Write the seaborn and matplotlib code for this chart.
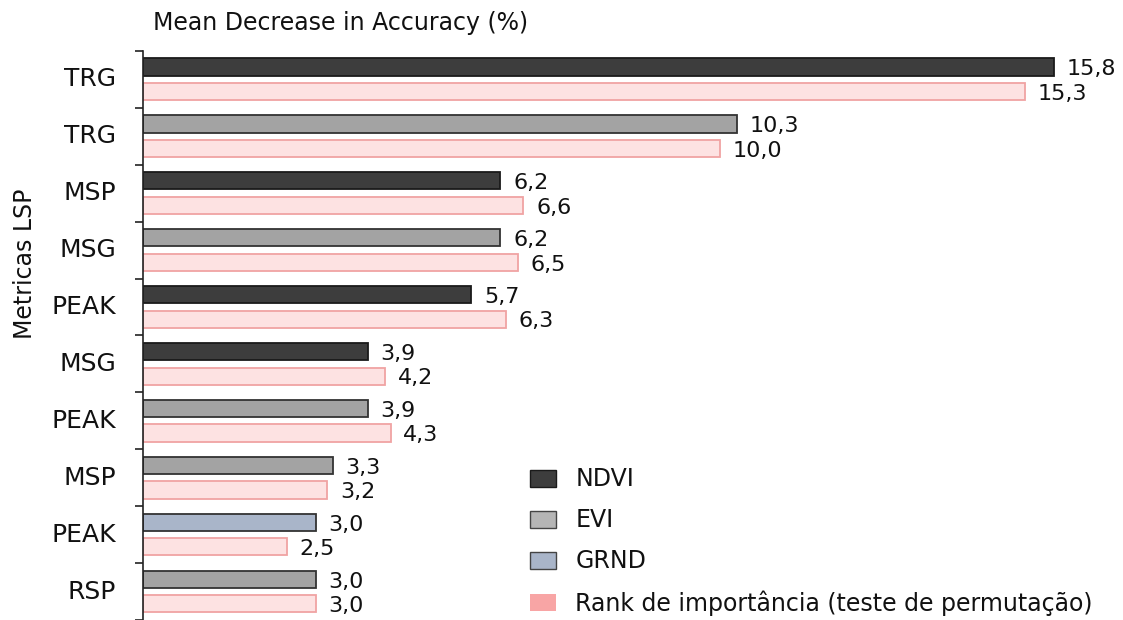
import matplotlib
matplotlib.use("Agg")
import matplotlib.pyplot as plt
from matplotlib.patches import Patch
import seaborn as sns
import pandas as pd

# ---- data ----
metrics = ["TRG", "TRG", "MSP", "MSG", "PEAK", "MSG", "PEAK", "MSP", "PEAK", "RSP"]
indices = ["NDVI", "EVI", "NDVI", "EVI", "NDVI", "NDVI", "EVI", "EVI", "GRND", "EVI"]
mda = [15.8, 10.3, 6.2, 6.2, 5.7, 3.9, 3.9, 3.3, 3.0, 3.0]
rank = [15.3, 10.0, 6.6, 6.5, 6.3, 4.2, 4.3, 3.2, 2.5, 3.0]
legend_labels = ["NDVI", "EVI", "GRND", "Rank de importância (teste de permutação)"]

index_colors = {"NDVI": "#3d3d3d", "EVI": "#a3a3a3", "GRND": "#a9b5c9"}
index_edges = {"NDVI": "#1a1a1a", "EVI": "#333333", "GRND": "#333333"}
pink_fill = "#fde2e2"
pink_edge = "#f0a3a3"

sns.set_theme(style="white")
plt.rcParams["font.family"] = ["DejaVu Sans"]
plt.rcParams["text.color"] = "#111111"
plt.rcParams["axes.labelcolor"] = "#111111"
plt.rcParams["ytick.labelcolor"] = "#111111"

keys = [f"{i}" for i in range(len(metrics))]
df = pd.DataFrame({
    "key": keys * 2,
    "value": mda + rank,
    "serie": ["idx"] * len(mda) + ["rank"] * len(rank),
})

fig = plt.figure(figsize=(11.23, 6.2), dpi=100)
ax = fig.add_axes([0.127, 0.0, 0.822, 0.918])

sns.barplot(data=df, x="value", y="key", hue="serie", orient="h",
            order=keys, hue_order=["idx", "rank"], width=0.86, gap=0.3,
            legend=False, ax=ax, linewidth=1.3)

for i, bar in enumerate(ax.containers[0]):
    bar.set_facecolor(index_colors[indices[i]])
    bar.set_edgecolor(index_edges[indices[i]])
for bar in ax.containers[1]:
    bar.set_facecolor(pink_fill)
    bar.set_edgecolor(pink_edge)

for c, vals in zip(ax.containers, [mda, rank]):
    for bar, v in zip(c, vals):
        y = bar.get_y() + bar.get_height() / 2
        ax.text(bar.get_width() + 0.22, y + 0.04, f"{v:.1f}".replace(".", ","),
                va="center", ha="left", fontsize=16)

ax.set_xlim(0, 16)
ax.set_ylim(len(metrics) - 0.5, -0.5)
ax.set_yticks(range(len(metrics)))
ax.set_yticklabels(metrics, fontsize=18)
for lbl in ax.get_yticklabels():
    lbl.set_verticalalignment("center")
ax.tick_params(axis="y", which="major", length=0, pad=19)
ax.set_yticks([i - 0.5 for i in range(len(metrics) + 1)], minor=True)
ax.tick_params(axis="y", which="minor", length=6, width=1.2, color="#222222", left=True)
ax.set_xticks([])
ax.set_xlabel("")
ax.set_ylabel("Metricas LSP", fontsize=17)
ax.yaxis.set_label_coords(-0.114, 0.625)
for s in ["top", "right", "bottom"]:
    ax.spines[s].set_visible(False)
ax.spines["left"].set_color("#222222")
ax.spines["left"].set_linewidth(1.2)

fig.text(153 / 1123, 1 - 23 / 620, "Mean Decrease in Accuracy (%)", fontsize=17,
         ha="left", va="center")

handles = [Patch(facecolor=index_colors["NDVI"], edgecolor=index_edges["NDVI"]),
           Patch(facecolor="#b5b5b5", edgecolor="#444444"),
           Patch(facecolor=index_colors["GRND"], edgecolor="#444444"),
           Patch(facecolor="#f8a5a5", edgecolor="none")]
fig.legend(handles, legend_labels, loc="upper left",
           bbox_to_anchor=(521 / 1123, 1 - 458 / 620), frameon=False,
           fontsize=17, handlelength=1.1, handleheight=0.75, handletextpad=0.8,
           labelspacing=0.72, borderaxespad=0)

fig.savefig("out.png", dpi=100)
